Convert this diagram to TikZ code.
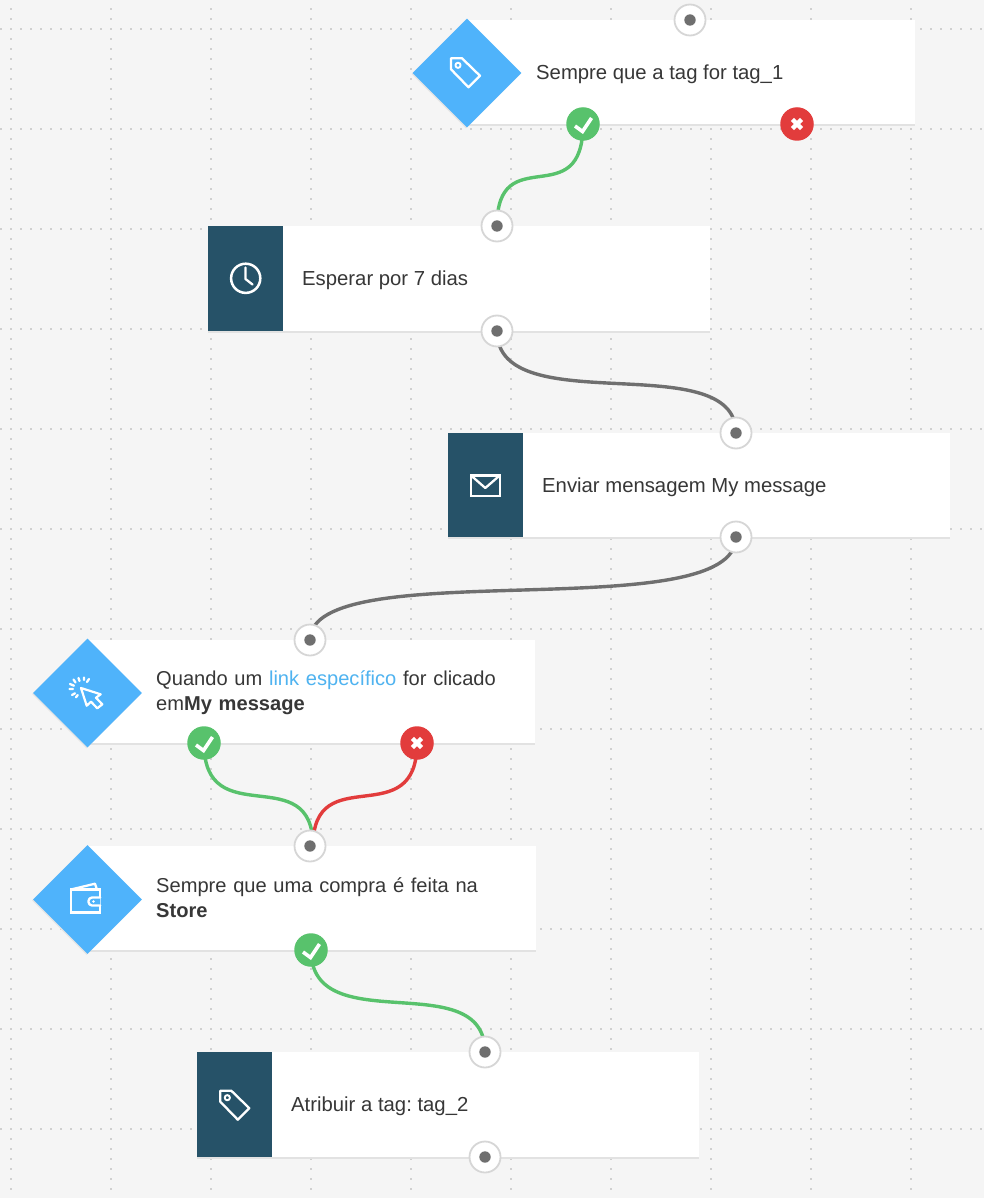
\documentclass[tikz,border=0pt]{standalone}
\usepackage{fontspec}
\setmainfont{Liberation Sans}
\frenchspacing
\usetikzlibrary{shapes.geometric}
\definecolor{bgc}{HTML}{F5F5F5}
\definecolor{dotc}{HTML}{D0D0D0}
\definecolor{bluec}{HTML}{4FB3FB}
\definecolor{darkc}{HTML}{265268}
\definecolor{greenc}{HTML}{58C26C}
\definecolor{redc}{HTML}{E23C3C}
\definecolor{wirec}{HTML}{6F6F6F}
\definecolor{ringc}{HTML}{D6D6D6}
\definecolor{txtc}{HTML}{373737}
\definecolor{linkc}{HTML}{4FB3F0}
\definecolor{edgec}{HTML}{E2E2E2}
\pgfdeclarelayer{back}
\pgfdeclarelayer{conn}
\pgfsetlayers{back,conn,main}
\tikzset{
  x=1pt,y=-1pt,
  card/.style={fill=white,draw=none},
  cardline/.style={draw=edgec,line width=2pt},
  blueblock/.style={diamond,fill=bluec,minimum width=109pt,minimum height=109pt,inner sep=0pt},
  shadowblock/.style={diamond,fill=black!10,minimum width=109pt,minimum height=109pt,inner sep=0pt},
  port/.style={circle,fill=white,draw=ringc,line width=1.8pt,minimum size=31pt,inner sep=0pt},
  yes/.style={circle,fill=greenc,minimum size=33.5pt,inner sep=0pt},
  nope/.style={circle,fill=redc,minimum size=33.5pt,inner sep=0pt},
  label/.style={anchor=base west,inner sep=0pt,font=\fontsize{20.3}{24}\selectfont\frenchspacing,text=txtc,align=left},
  label2/.style={label,anchor=north west,text width=370pt,font=\fontsize{20.1}{24.5}\selectfont\frenchspacing},
  ico/.style={draw=white,line width=2.3pt,line join=round,line cap=round},
  wire/.style={line width=3.4pt,draw=wirec},
  wy/.style={line width=3.4pt,draw=greenc},
  wn/.style={line width=3.4pt,draw=redc},
  pics/tagico/.style={code={
    \draw[ico] (0,0) -- (11,0) -- (29,17.5) -- (17.5,29) -- (0,11) -- cycle;
    \draw[ico,line width=1.9pt] (7,7) circle (2.6);
  }},
  pics/tick/.style={code={
    \draw[white,line width=3.6pt,line join=miter] (-8,2) -- (-0.5,7.5) -- (8.5,-6);
  }},
  pics/cross/.style={code={
    \draw[white,line width=4.4pt] (-4.6,-4.6) -- (4.6,4.6) (-4.6,4.6) -- (4.6,-4.6);
  }}
}
\begin{document}
\begin{tikzpicture}
\useasboundingbox (0,0) rectangle (984,1198);
\begin{pgfonlayer}{back}
\fill[bgc] (0,0) rectangle (984,1198);
% dotted grid
\foreach \gy in {29,129,...,1129}{
  \foreach \dx in {1,11,...,981}{\fill[dotc] (\dx-0.75,\gy-0.75) rectangle (\dx+0.75,\gy+0.75);}
}
\foreach \gx in {11,111,...,911}{
  \foreach \dy in {9,19,...,1189}{\fill[dotc] (\gx-0.75,\dy-0.75) rectangle (\gx+0.75,\dy+0.75);}
}
% cards
\fill[card] (467,20) rectangle (915,124);
\draw[cardline] (467,124.6) -- (915,124.6);
\fill[card] (283,226) rectangle (710,331);
\draw[cardline] (208,331.6) -- (710,331.6);
\fill[card] (523,433) rectangle (950,537);
\draw[cardline] (448,537.6) -- (950,537.6);
\fill[card] (87,640) rectangle (535,743);
\draw[cardline] (87,743.6) -- (535,743.6);
\fill[card] (87,846) rectangle (536,950);
\draw[cardline] (87,950.6) -- (536,950.6);
\fill[card] (272,1052) rectangle (699,1157);
\draw[cardline] (197,1157.6) -- (699,1157.6);
\end{pgfonlayer}
% icon blocks
\node[shadowblock] (s1) at (466,74) {};
\node[shadowblock] (s4) at (86.5,694) {};
\node[shadowblock] (s5) at (86.5,900.5) {};
\node[blueblock] (d1) at (467,73) {};
\node[blueblock] (d4) at (87.5,693) {};
\node[blueblock] (d5) at (87.5,899.5) {};
\node[fill=darkc,minimum width=75pt,minimum height=105pt,inner sep=0pt] (b2) at (245.5,278.5) {};
\node[fill=darkc,minimum width=75pt,minimum height=104pt,inner sep=0pt] (b3) at (485.5,485) {};
\node[fill=darkc,minimum width=75pt,minimum height=105pt,inner sep=0pt] (b6) at (234.5,1104.5) {};
% icons
\pic at (451,58.3) {tagico};
\pic at (220.3,1090.7) {tagico};
\draw[ico,line width=2.5pt] (245.7,278.3) circle (14.6);
\draw[ico] (245.5,267.5) -- (245.5,279) -- (252.5,284.5);
\draw[ico,line join=miter,line cap=butt] (471,475.5) rectangle (499.7,495.7);
\draw[ico,line cap=butt] (471,475.5) -- (485.3,488) -- (499.7,475.5);
% cursor
\draw[ico,line width=2.2pt] (81,688) -- (86.7,705.7) -- (91,701.7) -- (97.3,708.3) -- (102.3,704.3) -- (96,697.7) -- (100.7,694.3) -- cycle;
\draw[ico] (84,677.5) -- (84,680) (78.5,678) -- (79.5,681) (73.5,679.5) -- (75.5,682.5)
  (70,684) -- (74,685.7) (69.5,689) -- (73,689) (72,695) -- (75,693.3) (76,697.3) -- (77.7,695)
  (89,679) -- (87,682);
% wallet
\draw[ico,line join=miter,line cap=butt] (71,889.5) rectangle (100,912.5);
\draw[ico,line cap=butt] (71,889.5) -- (95,883.7) -- (96.7,889);
\draw[ico,fill=bluec,rounded corners=3.5pt] (100.3,897.5) -- (88.5,897.5) -- (88.5,905.5) -- (100.3,905.5);
\fill[white] (93.5,901.5) circle (1.4);
% texts
\node[label] (t1) at (536,79.5) {Sempre que a tag for tag\_1};
\node[label] (t2) at (302,285) {Esperar por 7 dias};
\node[label] (t3) at (542,492) {Enviar mensagem My message};
\node[label2] (t4) at (156,670.5) {Quando um {\color{linkc}link específico} for clicado\\em\textbf{My message}};
\node[label2] (t5) at (156,877.5) {Sempre que uma compra é feita na\\\textbf{Store}};
\node[label] (t6) at (291,1111) {Atribuir a tag: tag\_2};
% ports
\node[port] (p1) at (690,20) {};
\node[port] (p2a) at (497,226) {};
\node[port] (p2b) at (497,331) {};
\node[port] (p3a) at (736,433) {};
\node[port] (p3b) at (736,537) {};
\node[port] (p4) at (310,640) {};
\node[port] (p5) at (310,846) {};
\node[port] (p6a) at (485,1052) {};
\node[port] (p6b) at (485,1157) {};
\foreach \n in {p1,p2a,p2b,p3a,p3b,p4,p5,p6a,p6b}{\fill[wirec] (\n.center) circle (5.7);}
\node[yes] (y1) at (583,124) {};
\node[nope] (n1) at (797,124) {};
\node[yes] (y4) at (204,743) {};
\node[nope] (n4) at (417,743) {};
\node[yes] (y5) at (311,950) {};
\foreach \n in {y1,y4,y5}{\pic at (\n.center) {tick};}
\foreach \n in {n1,n4}{\pic at (\n.center) {cross};}
% connectors
\begin{pgfonlayer}{conn}
\draw[wy] (y1.center) .. controls +(0,92) and +(0,-88) .. (p2a.center);
\draw[wire] (p2b.center) .. controls +(0,92) and +(0,-88) .. (p3a.center);
\draw[wire] (p3b.center) .. controls +(0,92) and +(0,-88) .. (p4.center);
\draw[wy] (y4.center) .. controls +(0,92) and +(0,-88) .. ([xshift=3pt]p5.center);
\draw[wn] (n4.center) .. controls +(0,92) and +(0,-88) .. ([xshift=3pt]p5.center);
\draw[wy] (y5.center) .. controls +(0,92) and +(0,-88) .. (p6a.center);
\end{pgfonlayer}
\end{tikzpicture}
\end{document}
